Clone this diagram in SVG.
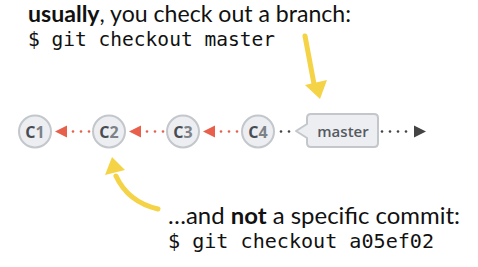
<svg xmlns="http://www.w3.org/2000/svg" width="478" height="267" viewBox="0 0 478 267">
<defs>
<style>
.commit circle{fill:#eceef1;stroke:#c3c7cb;stroke-width:2}
.clabel{font-family:"Open Sans","DejaVu Sans",sans-serif;font-weight:700;font-size:16px;text-anchor:middle}
.cC{fill:#474c53}
.cN{fill:#7d8288}
.red{fill:#e8604c}
.dot{fill:#444}
.lead{font-family:Lato,"Open Sans",sans-serif;font-size:23px;fill:#111}
.mono{font-family:"DejaVu Sans Mono",monospace;font-size:19.8px;fill:#111}
.yel{stroke:#f5d346;stroke-width:5;fill:none;stroke-linecap:round}
.yelh{fill:#f5d346}
</style>
</defs>
<rect width="478" height="267" fill="#fff"/>

<g id="text-top">
<text class="lead" x="28" y="22" textLength="323" lengthAdjust="spacingAndGlyphs"><tspan font-weight="700">usually</tspan>, you check out a branch:</text>
<text class="mono" x="28" y="46" textLength="247" lengthAdjust="spacingAndGlyphs">$ git checkout master</text>
</g>
<g id="text-bottom">
<text class="lead" x="168" y="224" textLength="292" lengthAdjust="spacingAndGlyphs">…and <tspan font-weight="700">not</tspan> a specific commit:</text>
<text class="mono" x="168" y="248" textLength="266" lengthAdjust="spacingAndGlyphs">$ git checkout a05ef02</text>
</g>

<g id="connectors">
<polygon class="red" points="55,131.5 67,125.5 67,137.5"/>
<circle class="red" cx="73" cy="131.5" r="1.3"/><circle class="red" cx="81" cy="131.5" r="1.3"/><circle class="red" cx="89" cy="131.5" r="1.3"/>
<polygon class="red" points="129,131.5 141,125.5 141,137.5"/>
<circle class="red" cx="147" cy="131.5" r="1.3"/><circle class="red" cx="155" cy="131.5" r="1.3"/><circle class="red" cx="163" cy="131.5" r="1.3"/>
<polygon class="red" points="203,131.5 215,125.5 215,137.5"/>
<circle class="red" cx="221" cy="131.5" r="1.3"/><circle class="red" cx="229" cy="131.5" r="1.3"/><circle class="red" cx="237" cy="131.5" r="1.3"/>
<circle class="dot" cx="281" cy="131.5" r="1.3"/><circle class="dot" cx="289" cy="131.5" r="1.3"/>
<circle class="dot" cx="382" cy="131.5" r="1.3"/><circle class="dot" cx="390" cy="131.5" r="1.3"/><circle class="dot" cx="398" cy="131.5" r="1.3"/><circle class="dot" cx="406" cy="131.5" r="1.3"/>
<polygon fill="#444" points="426,131.5 414,125.5 414,137.5"/>
</g>

<g id="c1" class="commit"><circle cx="35" cy="131.5" r="16"/><text class="clabel" x="35" y="138"><tspan class="cC">C</tspan><tspan class="cN">1</tspan></text></g>
<g id="c2" class="commit"><circle cx="109" cy="131.5" r="16"/><text class="clabel" x="109" y="138"><tspan class="cC">C</tspan><tspan class="cN">2</tspan></text></g>
<g id="c3" class="commit"><circle cx="183" cy="131.5" r="16"/><text class="clabel" x="183" y="138"><tspan class="cC">C</tspan><tspan class="cN">3</tspan></text></g>
<g id="c4" class="commit"><circle cx="258" cy="131.5" r="16"/><text class="clabel" x="258" y="138"><tspan class="cC">C</tspan><tspan class="cN">4</tspan></text></g>

<g id="master">
<path d="M311,114 H374 Q378,114 378,118 V143 Q378,147 374,147 H311 Q307,147 307,143 V138 L296,131 L307,124 V118 Q307,114 311,114 Z" fill="#eceef1" stroke="#c3c7cb" stroke-width="2" stroke-linejoin="round"/>
<text x="343" y="136.5" text-anchor="middle" font-family="'Open Sans','DejaVu Sans',sans-serif" font-weight="600" font-size="15" fill="#555a60">master</text>
</g>

<g id="yellow-arrows">
<path class="yel" d="M305,36 L314,84"/>
<polygon class="yelh" points="305,85 327,80 320,99"/>
<path class="yel" d="M158,209 Q128,202 116,176"/>
<polygon class="yelh" points="105,175 112,157 125,170"/>
</g>
</svg>
